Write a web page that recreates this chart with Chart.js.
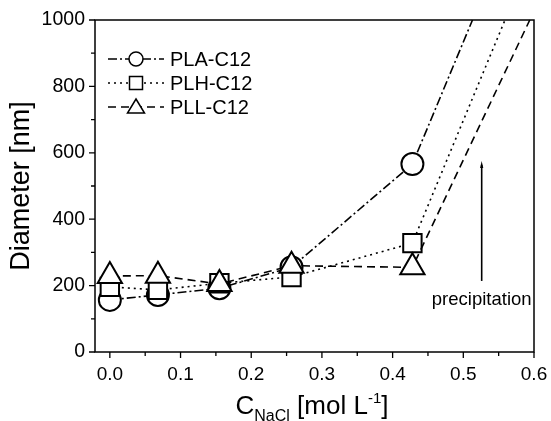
<!DOCTYPE html>
<html>
<head>
<meta charset="utf-8">
<script src="https://cdn.jsdelivr.net/npm/chart.js@4.4.1/dist/chart.umd.min.js"></script>
<style>
html,body{margin:0;padding:0;background:#fff;}
#wrap{width:551px;height:421px;position:relative;}
</style>
</head>
<body>
<div id="wrap"><canvas id="c" width="551" height="421"></canvas></div>
<script>
// ---- data ----
const concentrations = [0, 0.068, 0.155, 0.257, 0.428];
const seriesNames = ['PLA-C12', 'PLH-C12', 'PLL-C12'];
const plaDiameter = [157, 172, 192, 255, 566];
const plhDiameter = [196, 187, 207, 226, 328];
const pllDiameter = [229, 230, 205, 260, 255];
// where each trend line leaves the plot at the top (precipitation)
const plaExit = [0.513, 1000];
const plhExit = [0.559, 1000];
const pllExit = [0.594, 1000];
const xTickValues = [0.0, 0.1, 0.2, 0.3, 0.4, 0.5, 0.6];
const yTickValues = [0, 200, 400, 600, 800, 1000];
const arrowX = [0.526, 0.526];
const arrowY = [214, 575];
const noteText = 'precipitation';
const noteX = 0.526, noteY = 157;

const FONT = "'Liberation Sans', Arial, Helvetica, sans-serif";

function pts(ys, exit) {
  const a = concentrations.map((x, i) => ({x: x, y: ys[i]}));
  a.push({x: exit[0], y: exit[1]});
  return a;
}
function radii(r) { return concentrations.map(() => r).concat([0]); }

const styles = [
  {pointStyle: 'circle', r: 11, dash: [9, 3, 2, 3]},
  {pointStyle: 'rect', r: 13, dash: [2, 4]},
  {pointStyle: 'triangle', r: 14, dash: [8, 5]}
];
const seriesData = [pts(plaDiameter, plaExit), pts(plhDiameter, plhExit), pts(pllDiameter, pllExit)];

const datasets = seriesData.map((d, i) => ({
  label: seriesNames[i],
  data: d,
  order: 3 - i,
  showLine: true,
  borderColor: '#000',
  borderWidth: 1.6,
  borderDash: styles[i].dash,
  pointStyle: styles[i].pointStyle,
  pointRadius: radii(styles[i].r),
  pointHoverRadius: radii(styles[i].r),
  pointBorderWidth: 2,
  pointBorderColor: '#000',
  pointBackgroundColor: '#fff',
  tension: 0,
  clip: false
}));

const framePlugin = {
  id: 'frame',
  afterDatasetsDraw(chart) {
    const ctx = chart.ctx, a = chart.chartArea;
    const xs = chart.scales.x, ys = chart.scales.y;
    ctx.save();
    ctx.strokeStyle = '#000';
    ctx.lineWidth = 1.5;
    ctx.setLineDash([]);
    ctx.strokeRect(a.left, a.top, a.right - a.left, a.bottom - a.top);
    // ticks
    ctx.lineWidth = 1.3;
    ctx.beginPath();
    for (let v = 0; v <= 1000; v += 100) {
      const p = ys.getPixelForValue(v);
      const len = (v % 200 === 0) ? 6 : 4;
      ctx.moveTo(a.left - len, p); ctx.lineTo(a.left, p);
    }
    for (let k = 0; k <= 12; k++) {
      const v = k * 0.05;
      const p = xs.getPixelForValue(v);
      const len = (k % 2 === 0) ? 6 : 4;
      ctx.moveTo(p, a.bottom); ctx.lineTo(p, a.bottom + len);
    }
    ctx.stroke();
    // arrow
    const ax = xs.getPixelForValue(arrowX[0]);
    const ay0 = ys.getPixelForValue(arrowY[0]);
    const ay1 = ys.getPixelForValue(arrowY[1]);
    ctx.lineWidth = 1.6;
    ctx.beginPath();
    ctx.moveTo(ax, ay0); ctx.lineTo(ax, ay1 + 4);
    ctx.stroke();
    ctx.beginPath();
    ctx.moveTo(ax, ay1); ctx.lineTo(ax - 1.6, ay1 + 7); ctx.lineTo(ax + 1.6, ay1 + 7); ctx.closePath();
    ctx.fillStyle = '#000'; ctx.fill();
    // note
    ctx.font = '18.5px ' + FONT;
    ctx.textAlign = 'center'; ctx.textBaseline = 'middle';
    ctx.fillText(noteText, xs.getPixelForValue(noteX), ys.getPixelForValue(noteY));
    // legend
    const lx0 = 108, lx1 = 164, mx = 136, tx = 170;
    const rowsY = [59, 83, 107];
    seriesNames.forEach((name, i) => {
      const y = rowsY[i];
      ctx.setLineDash(styles[i].dash);
      ctx.lineWidth = 1.6;
      ctx.beginPath(); ctx.moveTo(lx0, y); ctx.lineTo(lx1, y); ctx.stroke();
      ctx.setLineDash([]);
      ctx.lineWidth = 1.5;
      ctx.fillStyle = '#fff';
      ctx.beginPath();
      if (i === 0) { ctx.arc(mx, y, 7, 0, Math.PI * 2); }
      else if (i === 1) { ctx.rect(mx - 6.5, y - 6.5, 13, 13); }
      else { ctx.moveTo(mx, y - 8); ctx.lineTo(mx + 8.5, y + 6); ctx.lineTo(mx - 8.5, y + 6); ctx.closePath(); }
      ctx.fill(); ctx.stroke();
      ctx.fillStyle = '#000';
      ctx.font = '20px ' + FONT;
      ctx.textAlign = 'left'; ctx.textBaseline = 'middle';
      ctx.fillText(name, tx, y + 1);
    });
    // axis titles
    ctx.font = '27px ' + FONT;
    ctx.textBaseline = 'alphabetic';
    ctx.save();
    ctx.translate(29, (a.top + a.bottom) / 2);
    ctx.rotate(-Math.PI / 2);
    ctx.textAlign = 'center';
    ctx.fillText('Diameter [nm]', 0, 0);
    ctx.restore();
    // x title with sub/superscript
    const base = 414;
    const parts = [
      {t: 'C', size: 26, dy: 0},
      {t: 'NaCl', size: 16, dy: 7},
      {t: ' [mol L', size: 26, dy: 0},
      {t: '-1', size: 15, dy: -11},
      {t: ']', size: 26, dy: 0}
    ];
    let total = 0;
    parts.forEach(p => { ctx.font = p.size + 'px ' + FONT; p.w = ctx.measureText(p.t).width; total += p.w; });
    let x = 312 - total / 2;
    ctx.textAlign = 'left';
    parts.forEach(p => { ctx.font = p.size + 'px ' + FONT; ctx.fillText(p.t, x, base + p.dy); x += p.w; });
    ctx.restore();
  }
};

new Chart(document.getElementById('c'), {
  type: 'scatter',
  data: {datasets: datasets},
  options: {
    responsive: false,
    animation: false,
    events: [],
    layout: {padding: {top: 20, right: 17, left: 0, bottom: 0}},
    plugins: {legend: {display: false}, tooltip: {enabled: false}},
    scales: {
      x: {
        type: 'linear', min: -0.021, max: 0.6,
        afterFit(s) { s.height = 69; s.paddingLeft = 0; s.paddingRight = 0; },
        border: {display: false},
        grid: {display: false, drawTicks: false},
        ticks: {
          stepSize: 0.1, includeBounds: false, padding: 11, color: '#000', maxRotation: 0,
          font: {family: FONT, size: 19},
          callback(v) {
            const hit = xTickValues.find(t => Math.abs(t - v) < 1e-6);
            return hit === undefined ? '' : hit.toFixed(1);
          }
        }
      },
      y: {
        type: 'linear', min: 0, max: 1000,
        afterFit(s) { s.width = 95; s.paddingTop = 0; s.paddingBottom = 0; },
        border: {display: false},
        grid: {display: false, drawTicks: false},
        ticks: {
          stepSize: 200, padding: 10, color: '#000',
          font: {family: FONT, size: 19.5},
          callback(v) { return yTickValues.includes(v) ? String(v) : ''; }
        }
      }
    }
  },
  plugins: [framePlugin]
});
</script>
</body>
</html>
